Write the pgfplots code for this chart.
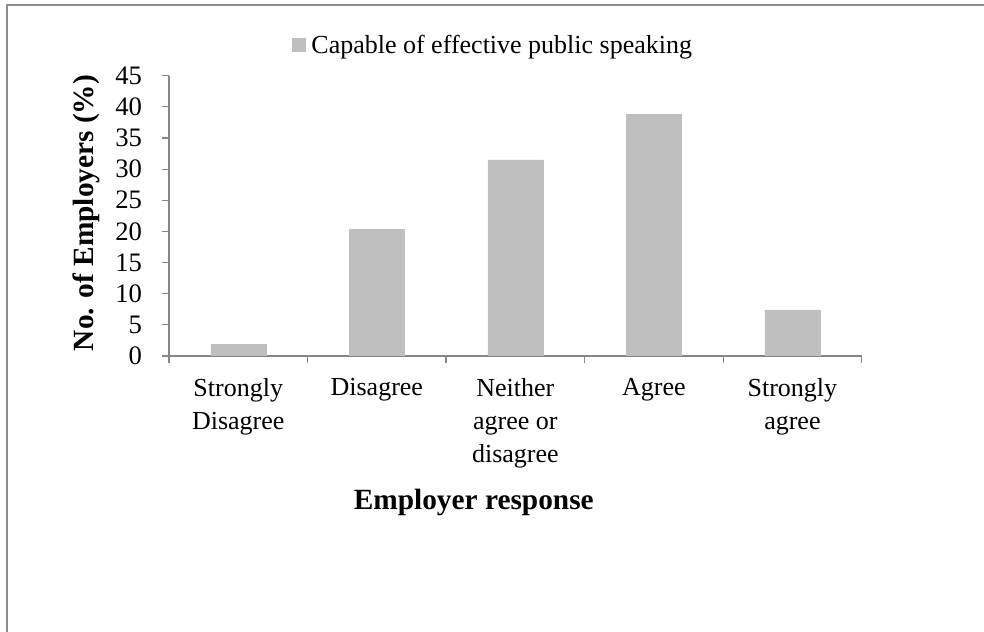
\documentclass[border=0pt]{standalone}
\usepackage{pgfplots}
\pgfplotsset{compat=1.18}
\usepackage{fontspec}
\setmainfont{Liberation Serif}
\definecolor{barc}{HTML}{BFBFBF}
\definecolor{axc}{HTML}{868686}
\definecolor{framec}{HTML}{8C8C8C}
\begin{document}
\begin{tikzpicture}
\useasboundingbox (0,0) rectangle (738bp,474bp);
\fill[white] (0,0) rectangle (738bp,474bp);
\draw[framec, line width=1.5bp] (5.25bp,-10bp) -- (5.25bp,470.25bp) -- (750bp,470.25bp);
\begin{axis}[
  at={(126.75bp,207bp)}, anchor=south west,
  scale only axis, width=519.5bp, height=210.2bp,
  xmin=-0.5, xmax=4.5, ymin=0, ymax=45,
  axis lines=left, axis line style={-, axc, line width=0.9bp},
  ytick={0,5,...,45},
  xtick={-0.5,0.5,1.5,2.5,3.5},
  xticklabels={Strongly\\Disagree, Disagree, Neither\\agree or\\disagree, Agree, Strongly\\agree},
  extra x ticks={4.5}, extra x tick labels={},
  tick align=outside, major tick length=5.25bp,
  tick style={axc, line width=0.9bp},
  /pgf/number format/assume math mode=true,
  xticklabel style={align=center, anchor=north, xshift=51.95bp, yshift=-8bp,
    font={\fontsize{19.5bp}{24.75bp}\selectfont}},
  yticklabel style={font={\fontsize{20bp}{24bp}\selectfont}, anchor=east, xshift=-11.5bp},
  ylabel={\textbf{No. of Employers (\%)}},
  ylabel style={at={(axis description cs:-0.119,0.51)}, anchor=center,
    font={\fontsize{22bp}{26bp}\selectfont}},
  xlabel={\textbf{Employer response}},
  xlabel style={at={(axis description cs:0.44,-0.524)}, anchor=center,
    font={\fontsize{22bp}{26bp}\selectfont}},
  legend style={at={(axis description cs:0.468,1.1095)}, anchor=center, draw=none,
    fill=none, font={\fontsize{19.5bp}{24bp}\selectfont}, inner sep=0pt,
    /tikz/every even column/.append style={column sep=0pt}},
  legend image code/.code={\fill[barc] (0bp,-5bp) rectangle (10bp,5bp); \path (12.5bp,0bp);},
]
\addplot[ybar, bar width=41.25bp, fill=barc, draw=barc] coordinates {
  (0,1.9) (1,20.3) (2,31.5) (3,38.8) (4,7.4)};
\addlegendentry{Capable of effective public speaking}
\end{axis}
\end{tikzpicture}
\end{document}
